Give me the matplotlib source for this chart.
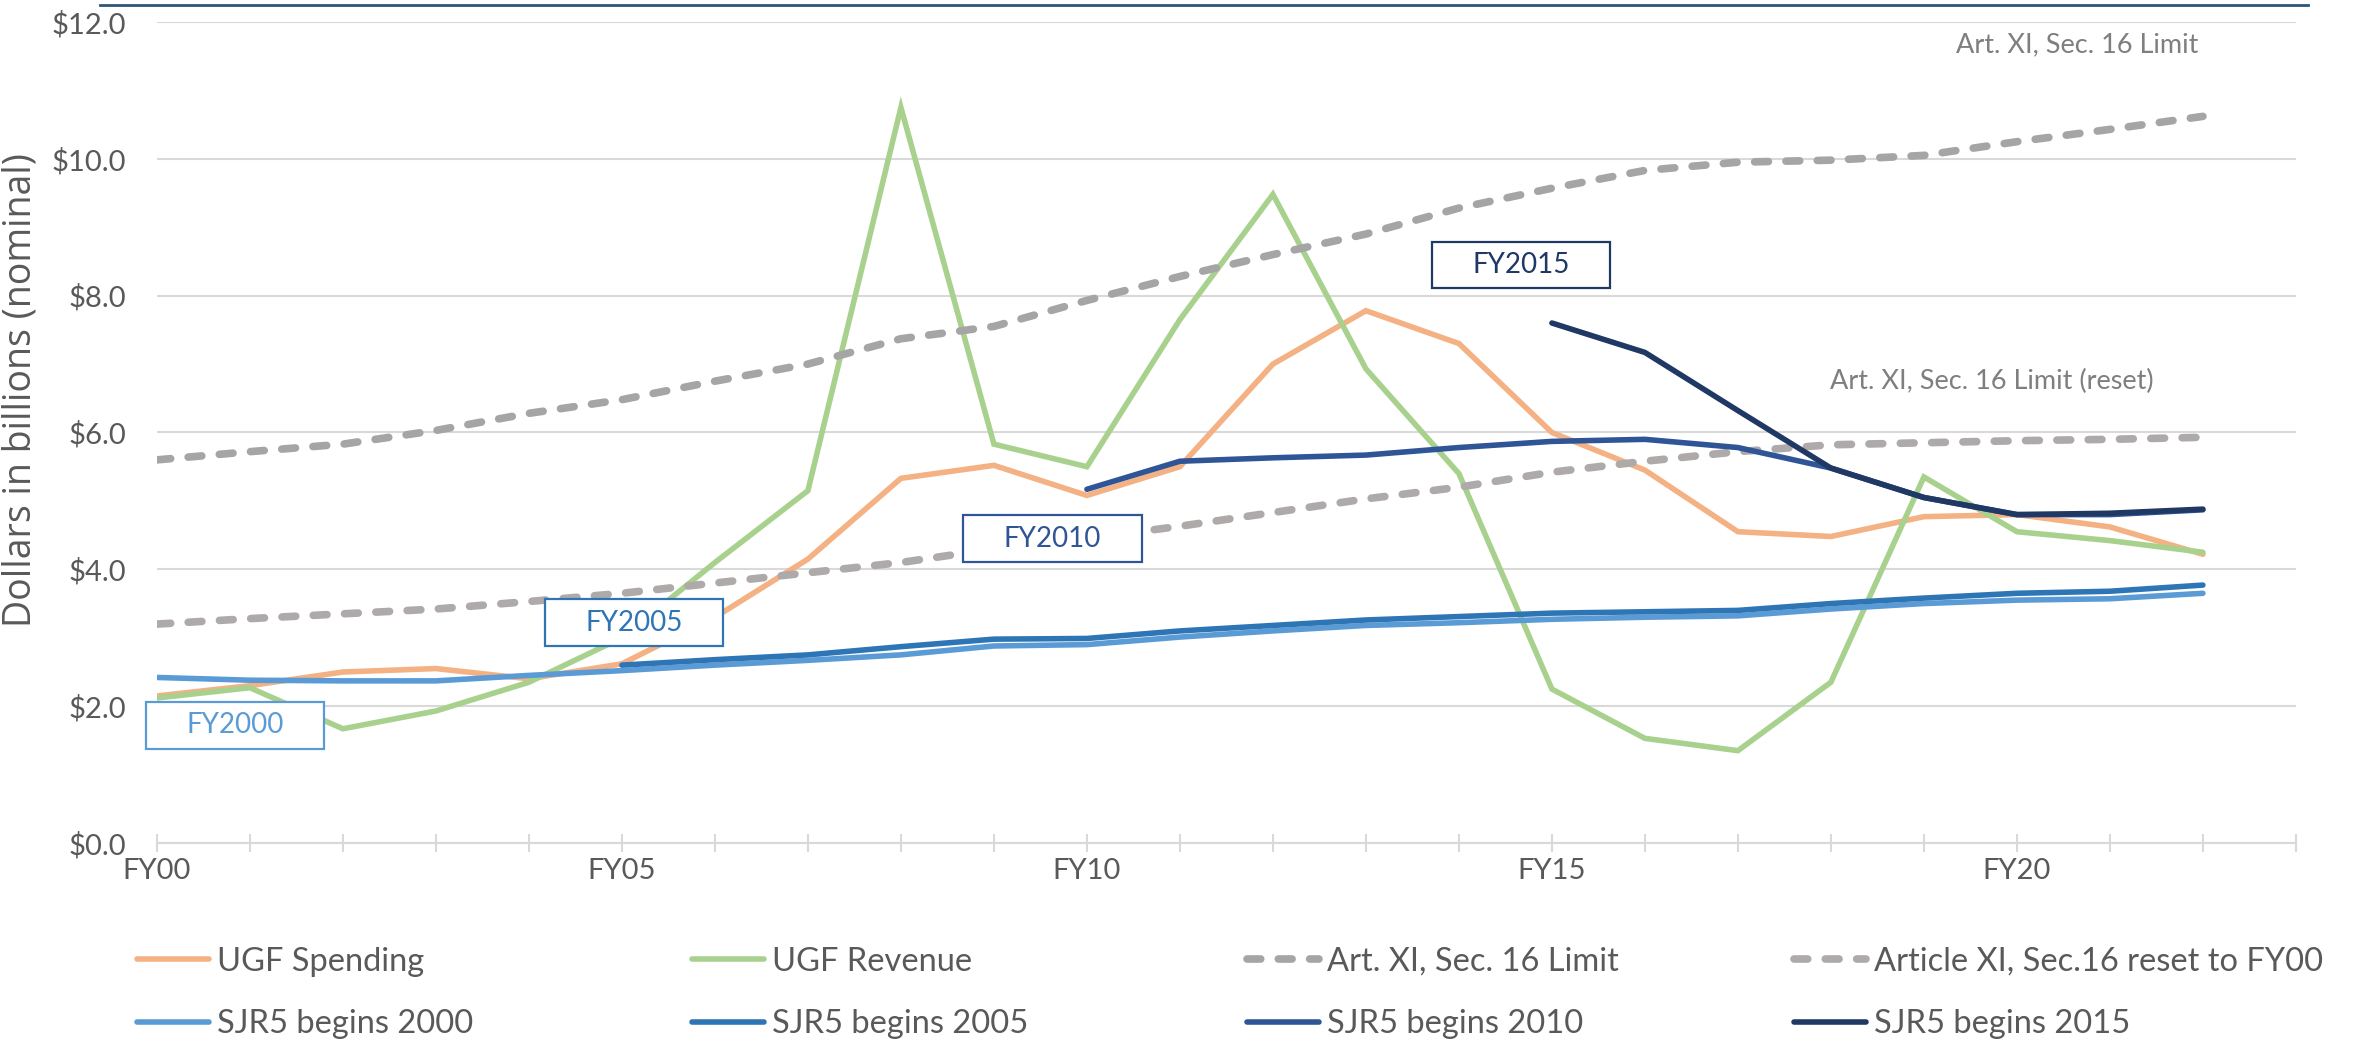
import matplotlib
matplotlib.use("Agg")
import matplotlib.pyplot as plt
from matplotlib.lines import Line2D
from matplotlib.patches import Rectangle

# fiscal years FY00..FY23 (FY23 is an empty category at the end of the axis)
years = list(range(0, 24))
tick_labels = ["FY00" if y == 0 else f"FY{y:02d}" if y % 5 == 0 else "" for y in years]

ugf_spending = [2.15, 2.30, 2.50, 2.55, 2.40, 2.62, 3.30, 4.15, 5.33, 5.52, 5.08, 5.50,
                7.00, 7.78, 7.30, 6.00, 5.45, 4.55, 4.48, 4.77, 4.80, 4.62, 4.22]
ugf_revenue = [2.12, 2.27, 1.67, 1.93, 2.35, 3.00, 4.10, 5.15, 10.75, 5.83, 5.50, 7.65,
               9.48, 6.93, 5.40, 2.25, 1.53, 1.35, 2.35, 5.35, 4.55, 4.42, 4.25]
limit = [5.60, 5.72, 5.83, 6.03, 6.28, 6.48, 6.75, 7.00, 7.37, 7.55, 7.93, 8.28,
         8.60, 8.90, 9.28, 9.57, 9.83, 9.95, 9.98, 10.05, 10.25, 10.43, 10.62]
limit_reset = [3.20, 3.28, 3.35, 3.42, 3.53, 3.65, 3.80, 3.95, 4.10, 4.30, 4.45, 4.63,
               4.83, 5.03, 5.20, 5.42, 5.58, 5.72, 5.82, 5.85, 5.88, 5.90, 5.93]
sjr5_2000 = [2.42, 2.38, 2.37, 2.37, 2.45, 2.52, 2.60, 2.67, 2.75, 2.88, 2.90, 3.01,
             3.10, 3.18, 3.22, 3.27, 3.30, 3.32, 3.42, 3.50, 3.55, 3.57, 3.65]
sjr5_2005 = [2.60, 2.68, 2.75, 2.87, 2.98, 2.99, 3.10, 3.18, 3.26, 3.31, 3.36, 3.38,
             3.40, 3.50, 3.58, 3.65, 3.68, 3.77]
sjr5_2010 = [5.17, 5.58, 5.63, 5.67, 5.78, 5.87, 5.90, 5.78, 5.48, 5.05, 4.80, 4.80, 4.87]
sjr5_2015 = [7.60, 7.17, 6.32, 5.48, 5.05, 4.80, 4.82, 4.88]

series = [
    ("UGF Spending", years[:23], ugf_spending, "#F4B183", "solid"),
    ("UGF Revenue", years[:23], ugf_revenue, "#A9D18E", "solid"),
    ("Art. XI, Sec. 16 Limit", years[:23], limit, "#A5A5A5", "dash"),
    ("Article XI, Sec.16 reset to FY00", years[:23], limit_reset, "#AEAAAA", "dash"),
    ("SJR5 begins 2000", years[:23], sjr5_2000, "#5B9BD5", "solid"),
    ("SJR5 begins 2005", years[5:23], sjr5_2005, "#2E75B6", "solid"),
    ("SJR5 begins 2010", years[10:23], sjr5_2010, "#2F5597", "solid"),
    ("SJR5 begins 2015", years[15:23], sjr5_2015, "#1F3864", "solid"),
]

# start-year callouts: (label, x, y, colour)
callouts = [
    ("FY2000", 0.84, 1.72, "#5B9BD5"),
    ("FY2005", 5.13, 3.22, "#2E75B6"),
    ("FY2010", 9.63, 4.45, "#2F5597"),
    ("FY2015", 14.67, 8.45, "#1F3864"),
]

TEXT = "#595959"
GRID = "#D9D9D9"
FONT = "Lato"

fig = plt.figure(figsize=(23.74, 10.5), dpi=100)
ax = fig.add_axes([0.0661, 0.1971, 0.901, 0.782])

handles = []
for name, xs, ys, color, style in series:
    if style == "dash":
        (ln,) = ax.plot(xs, ys, color=color, lw=5.5, dashes=(1.8, 2.3),
                        dash_capstyle="round", label=name)
    else:
        (ln,) = ax.plot(xs, ys, color=color, lw=4.0, solid_capstyle="round",
                        solid_joinstyle="miter", label=name)
    handles.append(ln)

for text, x, y, color in callouts:
    w, h = 1.92, 0.68
    ax.add_patch(Rectangle((x - w / 2, y - h / 2), w, h, facecolor="white",
                           edgecolor=color, lw=1.6, zorder=5, clip_on=False))
    ax.text(x, y, text, color=color, fontsize=20, family=FONT,
            ha="center", va="center", zorder=6)

ax.text(21.95, 11.66, "Art. XI, Sec. 16 Limit", color="#7F7F7F", fontsize=19.5,
        family=FONT, ha="right", va="center")
ax.text(21.47, 6.74, "Art. XI, Sec. 16 Limit (reset)", color="#7F7F7F", fontsize=19.5,
        family=FONT, ha="right", va="center")

ax.set_xlim(0, 23)
ax.set_ylim(0, 12)
ax.set_yticks([0, 2, 4, 6, 8, 10, 12])
ax.set_yticklabels([f"${v:.1f}" for v in [0, 2, 4, 6, 8, 10, 12]])
ax.set_xticks(years)
ax.set_xticklabels(tick_labels)
ax.grid(axis="y", color=GRID, lw=1.5)
ax.set_axisbelow(True)
for side in ["top", "right", "left"]:
    ax.spines[side].set_visible(False)
ax.spines["bottom"].set_color(GRID)
ax.spines["bottom"].set_linewidth(1.5)
ax.tick_params(axis="y", length=0, pad=22, labelsize=21, labelcolor=TEXT)
ax.tick_params(axis="x", direction="inout", length=13, width=1.5, color=GRID,
               pad=4, labelsize=21, labelcolor=TEXT)
for lab in ax.get_xticklabels() + ax.get_yticklabels():
    lab.set_family(FONT)

ax.set_ylabel("Dollars in billions (nominal)", fontsize=27, color=TEXT,
              family="Open Sans", labelpad=12)
ax.yaxis.set_label_coords(-0.055, 0.552)

# legend: four columns of two rows, laid out like the original
columns = [[0, 4], [1, 5], [2, 6], [3, 7]]
col_x = [137, 692, 1247, 1794]
for idx, cx in zip(columns, col_x):
    leg = fig.legend([handles[i] for i in idx], [series[i][0] for i in idx],
                     loc="center left", bbox_to_anchor=(cx / 2374, 0.0543),
                     frameon=False, handlelength=2.2, handletextpad=0.25,
                     labelspacing=1.0, borderpad=0, borderaxespad=0,
                     prop={"family": FONT, "size": 23.5})
    for t in leg.get_texts():
        t.set_color(TEXT)

# thin header rule across the top of the page
fig.add_artist(Line2D([0.042, 0.972], [0.995, 0.995], color="#2E5575", lw=2))

fig.savefig("out.png", dpi=100)
